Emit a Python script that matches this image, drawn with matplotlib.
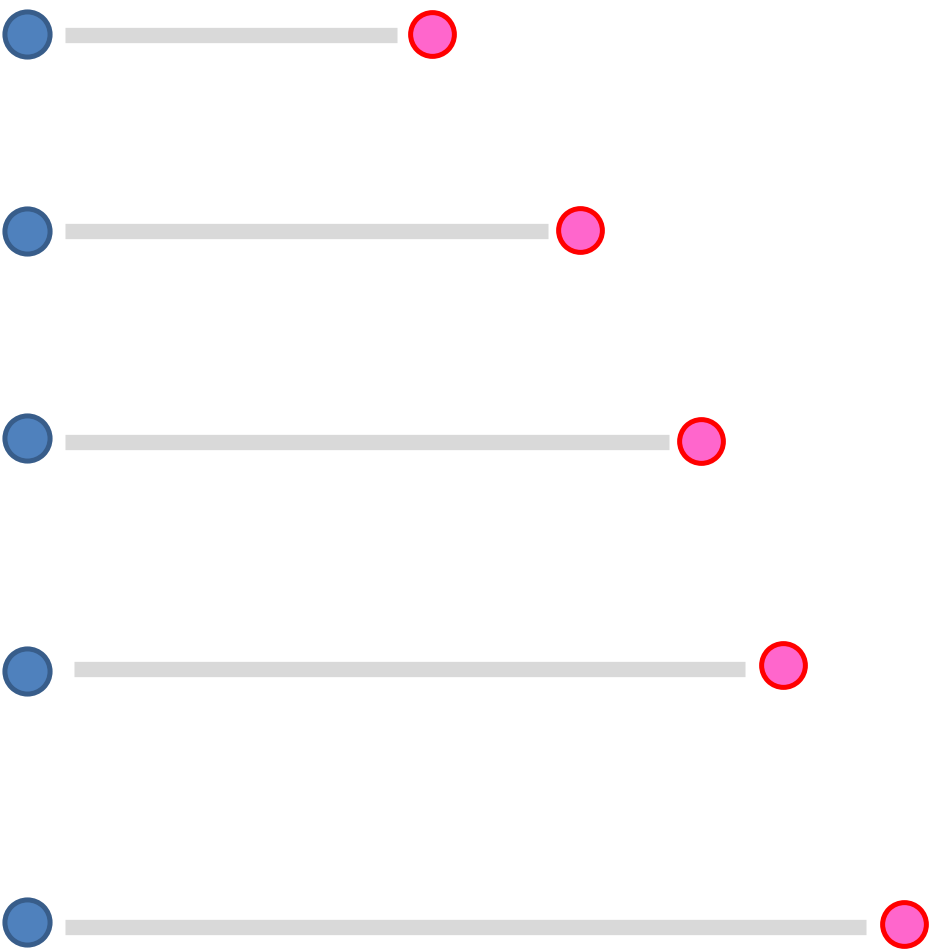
import matplotlib
matplotlib.use("Agg")
import matplotlib.pyplot as plt

# Row data (data units, pixel-like scale)
start_x = [27, 27, 27, 27, 27]
start_y = [34, 231, 438, 671, 922]
end_x = [432, 580, 701, 783, 904]
end_y = [34, 230, 441, 665, 924]
bar_x0 = [65, 65, 65, 74, 65]
bar_x1 = [397, 548, 669, 745, 866]
bar_y = [35, 231, 442, 669, 927]

fig = plt.figure(figsize=(9.33, 9.5), dpi=100)
ax = fig.add_axes([0, 0, 1, 1])
ax.set_xlim(0, 933)
ax.set_ylim(950, 0)
ax.axis("off")

ax.hlines(bar_y, bar_x0, bar_x1, colors="#D9D9D9", linewidth=11, capstyle="butt", zorder=1)
ax.plot(start_x, start_y, linestyle="none", marker="o", markersize=32.5,
        markerfacecolor="#4F81BD", markeredgecolor="#385D8A", markeredgewidth=3.6, zorder=2)
ax.plot(end_x, end_y, linestyle="none", marker="o", markersize=31.5,
        markerfacecolor="#FF66CC", markeredgecolor="#FF0000", markeredgewidth=3.6, zorder=2)

fig.savefig("out.png", dpi=100)
